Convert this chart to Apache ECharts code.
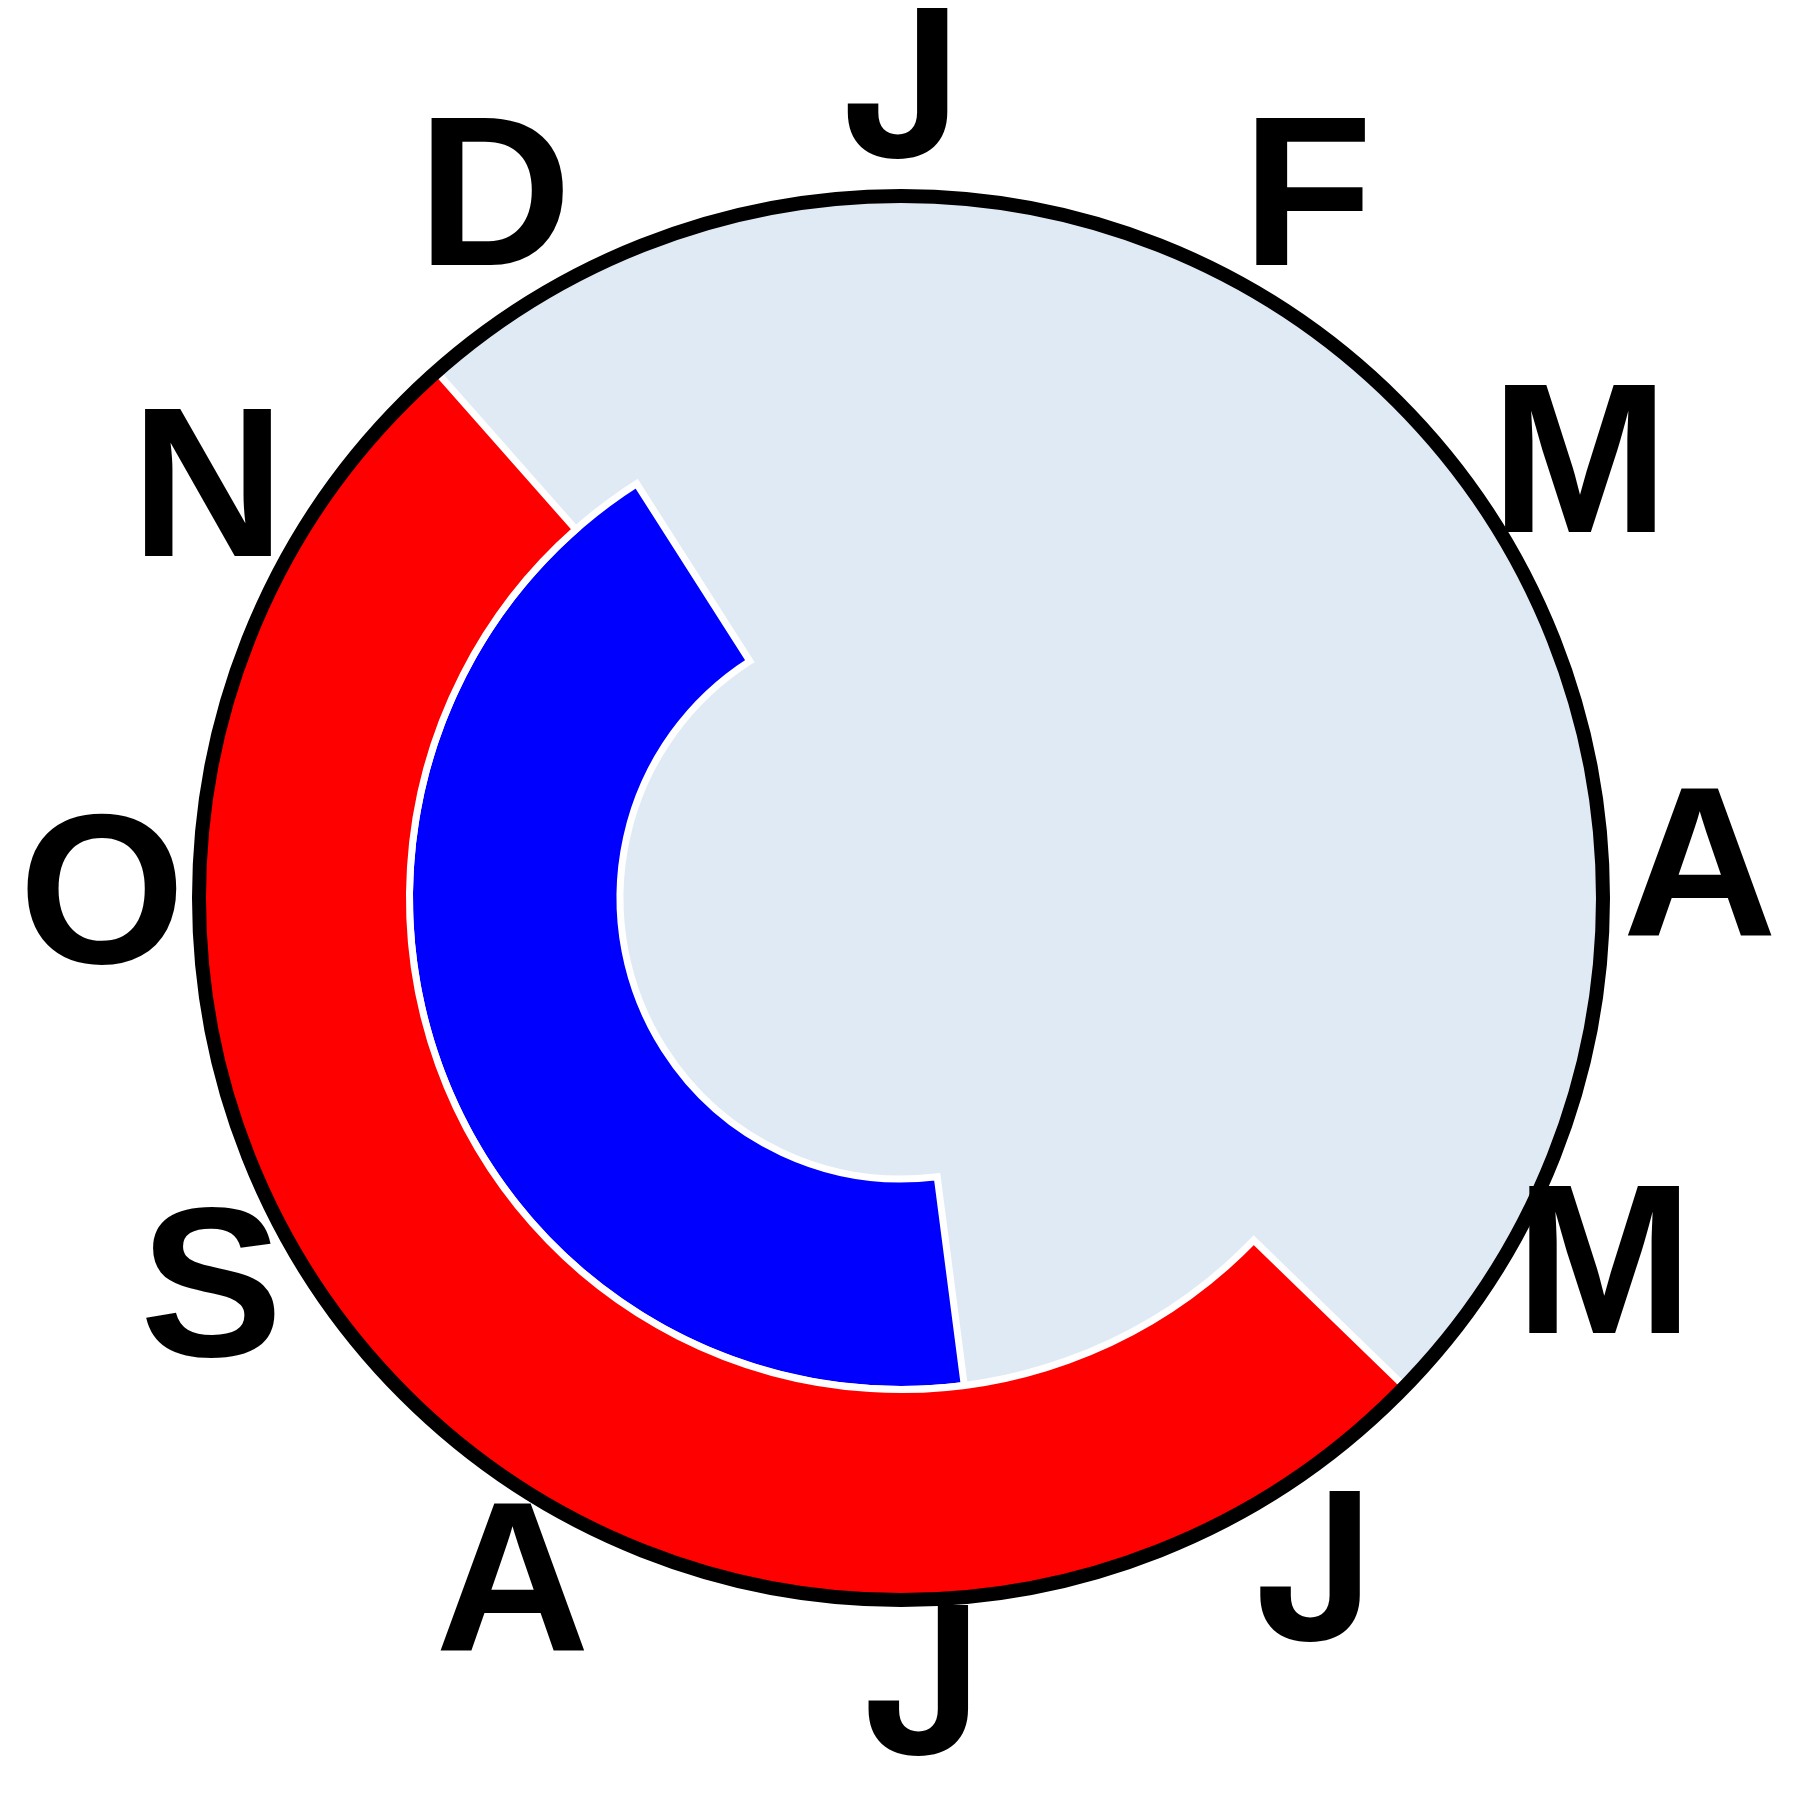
<!DOCTYPE html>
<html>
<head>
<meta charset="utf-8">
<script src="https://cdn.jsdelivr.net/npm/echarts@6/dist/echarts.min.js"></script>
<style>
html,body{margin:0;padding:0;background:#fff;}
#chart{width:1800px;height:1800px;}
</style>
</head>
<body>
<div id="chart"></div>
<script>
// Month labels placed at the first day of each month (day of year, 365-day year)
const monthLabels = ['J','F','M','A','M','J','J','A','S','O','N','D'];
const monthStartDays = [0,31,59,90,120,151,181,212,243,273,304,334];

// Two rings: inner (blue) and outer (red); start/end day of year
const rings = ['Blue', 'Red'];
const startDays = [175, 136];
const endDays = [332, 323];
const ringColors = ['#0000ff', '#ff0000'];

const chart = echarts.init(document.getElementById('chart'), null, {renderer:'canvas'});
const CENTER = [901, 898];
const LABEL_CENTER = [901, 894];
const R = 702;

const hiddenValueAxis = {
  axisLine: {show: false}, axisTick: {show: false},
  axisLabel: {show: false}, splitLine: {show: false}, splitArea: {show: false}
};

// 'J' drawn with a bar-less J glyph (Helvetica-like); others Arial-like
const jLabelStyle = {fontFamily: 'Inter', fontSize: 205};

const option = {
  animation: false,
  backgroundColor: '#ffffff',
  polar: [
    {center: CENTER, radius: [0, R]},
    {center: CENTER, radius: [281, R]},
    {center: LABEL_CENTER, radius: [0, 799]}
  ],
  angleAxis: [
    {
      polarIndex: 0, type: 'value', min: 0, max: 365,
      startAngle: 90, clockwise: true, z: 10,
      axisLine: {show: true, lineStyle: {color: '#000000', width: 14}},
      axisTick: {show: false},
      splitLine: {show: false},
      splitArea: {show: false},
      axisLabel: {show: false}
    },
    {
      polarIndex: 1, type: 'value', min: 0, max: 365,
      startAngle: 90, clockwise: true, show: false
    },
    Object.assign({
      polarIndex: 2, type: 'value', min: 0, max: 365,
      startAngle: 90, clockwise: true, show: false
    }, hiddenValueAxis)
  ],
  radiusAxis: [
    {
      polarIndex: 0, type: 'value', min: 0, max: 1, interval: 1, z: 0,
      axisLine: {show: false}, axisTick: {show: false},
      axisLabel: {show: false}, splitLine: {show: false},
      splitArea: {show: true, areaStyle: {color: ['#e0eaf4']}}
    },
    {polarIndex: 1, type: 'category', data: rings, show: false},
    Object.assign({polarIndex: 2, type: 'value', min: 0, max: 1, show: false}, hiddenValueAxis)
  ],
  series: [
    {
      type: 'bar', coordinateSystem: 'polar', polarIndex: 1, stack: 'season',
      data: startDays, barCategoryGap: '0%', silent: true,
      itemStyle: {color: 'transparent', borderWidth: 0}
    },
    {
      type: 'bar', coordinateSystem: 'polar', polarIndex: 1, stack: 'season',
      barCategoryGap: '0%',
      data: endDays.map(function (e, i) {
        return {value: e - startDays[i], itemStyle: {color: ringColors[i]}};
      }),
      itemStyle: {borderColor: '#ffffff', borderWidth: 7}
    },
    {
      type: 'scatter', coordinateSystem: 'polar', polarIndex: 2, silent: true, z: 20,
      symbolSize: 1,
      itemStyle: {color: 'rgba(0,0,0,0)', opacity: 1},
      data: monthStartDays.map(function (d, i) {
        const item = {name: monthLabels[i], value: [1, d]};
        if (monthLabels[i] === 'J') item.label = jLabelStyle;
        return item;
      }),
      label: {
        show: true, position: 'inside', formatter: '{b}',
        fontSize: 214, fontWeight: 'bold', fontFamily: 'Liberation Sans',
        color: '#000000', opacity: 1
      }
    }
  ]
};
chart.setOption(option);
</script>
</body>
</html>
